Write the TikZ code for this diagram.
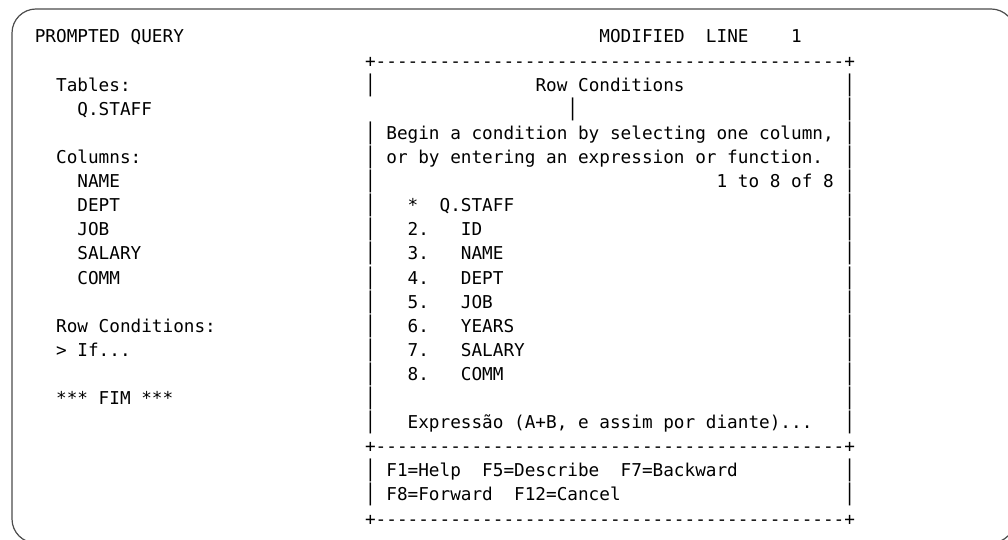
\documentclass[tikz,border=0pt]{standalone}
\usepackage{fontspec}
\usepackage{graphicx}
\usepackage{tikz}
\setmonofont{DejaVu Sans Mono}

\newcommand\vbar{\scalebox{1}[1.3]{|}}

\tikzset{
  scr/.style={anchor=base west,inner sep=0pt,outer sep=0pt,text=black,
    font=\ttfamily\fontsize{13.27pt}{16pt}\selectfont\frenchspacing},
  frame/.style={draw=black!70,line width=0.9pt,rounded corners=18pt},
}

\begin{document}
\begin{tikzpicture}[x=7.99pt,y=18.075pt]
                % one unit = one character cell, one line
                \useasboundingbox (-3.267,1.784) rectangle (91.35,-20.581);
                \clip (-3.267,1.784) rectangle (91.35,-20.581);
                \fill[white] (-3.267,1.784) rectangle (91.35,-20.581);
                \draw[frame] (-2.140,1.411) rectangle (92.01,-20.747);
                \coordinate (dR) at (0,-1);
                % left side of the screen
                \path (0,0) node[scr](query){PROMPTED QUERY}
                ++(2,-2) node[scr](tables){Tables:}
                ++(2,-1) node[scr](tabname){Q.STAFF}
                ++(-2,-2) node[scr](columns){Columns:}
                ++(2,-1) node[scr](c1){NAME}
                ++(dR) node[scr](c2){DEPT}
                ++(dR) node[scr](c3){JOB}
                ++(dR) node[scr](c4){SALARY}
                ++(dR) node[scr](c5){COMM}
                ++(-2,-2) node[scr](rowcond){Row Conditions:}
                ++(dR) node[scr](ifline){> If...}
                ++(0,-2) node[scr](fim){*** FIM ***};
                \node[scr] (modline) at (53,0) {MODIFIED~~LINE~~~~1};
                % pop-up window
                \node[scr] (top) at (31,-1) {+--------------------------------------------+};
                \node[scr] (mid) at (31,-17) {+--------------------------------------------+};
                \node[scr] (bot) at (31,-20) {+--------------------------------------------+};
                \foreach \r in {2,4,5,...,16,18,19}
                  \node[scr] (lb\r) at (31,-\r) {\vbar};
                \foreach \r in {2,3,...,16,18,19}
                  \node[scr] (rb\r) at (76,-\r) {\vbar};
                \node[scr] (wtitle) at (47,-2) {Row Conditions};
                \node[scr] (cursor) at (50,-3) {\vbar};
                \path (33,-4) node[scr](help1){Begin a condition by selecting one column,}
                ++(dR) node[scr](help2){or by entering an expression or function.};
                \node[scr] (count) at (64,-6) {1 to 8 of 8};
                \path (35,-7) node[scr](i1){*~~Q.STAFF}
                ++(dR) node[scr](i2){2.~~~ID}
                ++(dR) node[scr](i3){3.~~~NAME}
                ++(dR) node[scr](i4){4.~~~DEPT}
                ++(dR) node[scr](i5){5.~~~JOB}
                ++(dR) node[scr](i6){6.~~~YEARS}
                ++(dR) node[scr](i7){7.~~~SALARY}
                ++(dR) node[scr](i8){8.~~~COMM}
                ++(0,-2) node[scr](expr){Expressão (A+B, e assim por diante)...};
                \path (33,-18) node[scr](keys1){F1=Help~~F5=Describe~~F7=Backward}
                ++(dR) node[scr](keys2){F8=Forward~~F12=Cancel};
\end{tikzpicture}
\end{document}
